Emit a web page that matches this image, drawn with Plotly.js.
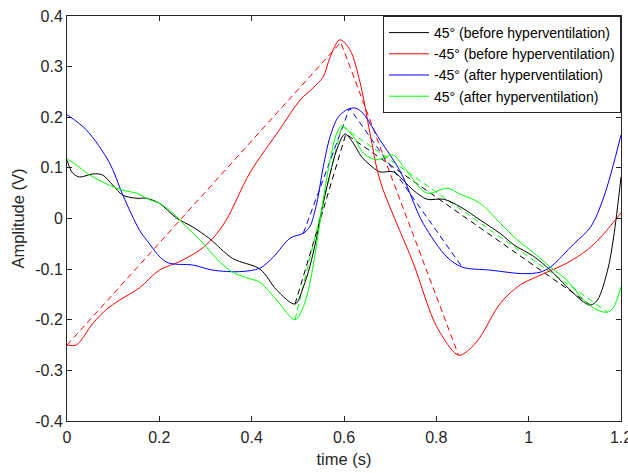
<!DOCTYPE html>
<html>
<head>
<meta charset="utf-8">
<script src="https://cdn.plot.ly/plotly-3.0.1.min.js"></script>
<style>html,body{margin:0;padding:0;background:#fff;}#chart{width:628px;height:473px;}</style>
</head>
<body>
<div id="chart"></div>
<script>
// ---- data ----
const seriesNames = ["45° (before hyperventilation)", "-45° (before hyperventilation)", "-45° (after hyperventilation)", "45° (after hyperventilation)"];

const tPos45Before = [0, 0.012, 0.027, 0.056, 0.077, 0.099, 0.121, 0.151, 0.172, 0.2, 0.237, 0.273, 0.309, 0.359, 0.418, 0.454, 0.494, 0.512, 0.526, 0.541, 0.555, 0.57, 0.584, 0.602, 0.62, 0.638, 0.656, 0.678, 0.707, 0.75, 0.78, 0.816, 0.852, 0.895, 0.939, 0.968, 1.011, 1.047, 1.083, 1.119, 1.134, 1.149, 1.171, 1.184, 1.2];
const vPos45Before = [0.115, 0.09, 0.082, 0.088, 0.086, 0.066, 0.046, 0.04, 0.04, 0.03, 0.001, -0.017, -0.04, -0.079, -0.1, -0.141, -0.169, -0.135, -0.095, -0.036, 0.03, 0.089, 0.135, 0.167, 0.149, 0.122, 0.106, 0.092, 0.092, 0.056, 0.038, 0.038, 0.023, -0.003, -0.03, -0.052, -0.075, -0.102, -0.135, -0.165, -0.171, -0.161, -0.102, -0.037, 0.082];

const tNeg45Before = [0, 0.02, 0.056, 0.085, 0.114, 0.157, 0.2, 0.244, 0.288, 0.316, 0.345, 0.396, 0.46, 0.505, 0.533, 0.555, 0.57, 0.591, 0.613, 0.635, 0.656, 0.678, 0.75, 0.801, 0.848, 0.87, 0.895, 0.939, 0.982, 1.025, 1.083, 1.127, 1.156, 1.2];
const vNeg45Before = [-0.25, -0.25, -0.207, -0.18, -0.161, -0.137, -0.102, -0.085, -0.062, -0.039, -0.003, 0.09, 0.175, 0.234, 0.258, 0.28, 0.319, 0.353, 0.333, 0.268, 0.17, 0.075, -0.088, -0.214, -0.27, -0.26, -0.234, -0.167, -0.131, -0.112, -0.088, -0.062, -0.037, 0.011];

const tNeg45After = [0, 0.042, 0.092, 0.121, 0.157, 0.172, 0.215, 0.273, 0.316, 0.374, 0.418, 0.447, 0.483, 0.512, 0.526, 0.541, 0.555, 0.57, 0.588, 0.609, 0.625, 0.641, 0.678, 0.722, 0.771, 0.823, 0.856, 0.917, 0.989, 1.025, 1.047, 1.098, 1.134, 1.163, 1.2];
const vNeg45After = [0.205, 0.175, 0.11, 0.046, -0.023, -0.042, -0.086, -0.092, -0.102, -0.105, -0.098, -0.076, -0.039, -0.029, -0.016, 0.03, 0.102, 0.162, 0.201, 0.216, 0.218, 0.208, 0.155, 0.093, -0.009, -0.076, -0.096, -0.102, -0.109, -0.106, -0.096, -0.05, -0.017, 0.043, 0.165];

const tPos45After = [0, 0.02, 0.049, 0.077, 0.107, 0.129, 0.151, 0.179, 0.2, 0.229, 0.259, 0.288, 0.331, 0.359, 0.389, 0.418, 0.454, 0.494, 0.512, 0.526, 0.541, 0.555, 0.57, 0.584, 0.595, 0.62, 0.642, 0.671, 0.707, 0.729, 0.78, 0.823, 0.852, 0.895, 0.939, 0.975, 1.011, 1.047, 1.083, 1.119, 1.149, 1.171, 1.184, 1.2];
const vPos45After = [0.118, 0.106, 0.086, 0.072, 0.06, 0.054, 0.05, 0.037, 0.03, 0.011, -0.017, -0.042, -0.086, -0.106, -0.117, -0.126, -0.161, -0.2, -0.174, -0.128, -0.049, 0.037, 0.116, 0.168, 0.183, 0.162, 0.129, 0.116, 0.125, 0.102, 0.05, 0.06, 0.048, 0.03, -0.01, -0.042, -0.068, -0.096, -0.122, -0.161, -0.181, -0.185, -0.175, -0.135];

// dashed piecewise-linear approximations (min -> peak -> min)
const tPos45BeforeFit = [0.494, 0.604, 1.134];
const vPos45BeforeFit = [-0.169, 0.167, -0.171];
const tNeg45BeforeFit = [0, 0.593, 0.848];
const vNeg45BeforeFit = [-0.25, 0.348, -0.27];
const tNeg45AfterFit = [0.512, 0.612, 0.856];
const vNeg45AfterFit = [-0.029, 0.218, -0.096];
const tPos45AfterFit = [0.494, 0.595, 1.171];
const vPos45AfterFit = [-0.2, 0.183, -0.185];

const xTickVals = [0, 0.2, 0.4, 0.6, 0.8, 1, 1.2];
const xTickText = ["0", "0.2", "0.4", "0.6", "0.8", "1", "1.2"];
const yTickVals = [-0.4, -0.3, -0.2, -0.1, 0, 0.1, 0.2, 0.3, 0.4];
const yTickText = ["-0.4", "-0.3", "-0.2", "-0.1", "0", "0.1", "0.2", "0.3", "0.4"];

// ---- styling ----
const colors = ["#000000", "#ff0000", "#0000ff", "#00ff00"];
const solidT = [tPos45Before, tNeg45Before, tNeg45After, tPos45After];
const solidV = [vPos45Before, vNeg45Before, vNeg45After, vPos45After];
const fitT = [tPos45BeforeFit, tNeg45BeforeFit, tNeg45AfterFit, tPos45AfterFit];
const fitV = [vPos45BeforeFit, vNeg45BeforeFit, vNeg45AfterFit, vPos45AfterFit];

const traces = [];
for (let i = 0; i < 4; i++) {
  traces.push({
    x: fitT[i], y: fitV[i], type: "scatter", mode: "lines",
    line: {color: colors[i], width: 1, dash: "6px,4px"},
    showlegend: false, hoverinfo: "skip"
  });
}
for (let i = 0; i < 4; i++) {
  traces.push({
    x: solidT[i], y: solidV[i], type: "scatter", mode: "lines", name: seriesNames[i],
    line: {color: colors[i], width: 1, shape: "spline", smoothing: 0.9}
  });
}

const fontFam = "'Liberation Sans', Arial, Helvetica, sans-serif";
const tickFont = {family: fontFam, size: 16, color: "#262626"};
const titleFont = {family: fontFam, size: 16.5, color: "#262626"};
const layout = {
  width: 628, height: 473,
  margin: {l: 67, r: 7, t: 16, b: 52},
  paper_bgcolor: "#ffffff", plot_bgcolor: "#ffffff",
  font: {family: fontFam, size: 15, color: "#262626"},
  showlegend: true,
  legend: {
    x: 1, y: 1, xanchor: "right", yanchor: "top",
    bgcolor: "#ffffff", bordercolor: "#262626", borderwidth: 1,
    font: {family: fontFam, size: 14, color: "#000000"},
    itemwidth: 40,
    traceorder: "normal"
  },
  xaxis: {
    range: [0, 1.2], tickmode: "array", tickvals: xTickVals, ticktext: xTickText,
    ticks: "inside", ticklen: 5, tickwidth: 1, tickcolor: "#262626",
    showline: true, linecolor: "#262626", linewidth: 1, mirror: "ticks",
    showgrid: false, zeroline: false,
    ticklabeloverflow: "allow", ticklabelstandoff: 2,
    tickfont: tickFont,
    title: {text: "time (s)", font: titleFont, standoff: 8}
  },
  yaxis: {
    range: [-0.4, 0.4], tickmode: "array", tickvals: yTickVals, ticktext: yTickText,
    ticks: "inside", ticklen: 5, tickwidth: 1, tickcolor: "#262626",
    showline: true, linecolor: "#262626", linewidth: 1, mirror: "ticks",
    showgrid: false, zeroline: false,
    tickfont: tickFont,
    title: {text: "Amplitude (V)", font: titleFont, standoff: 6}
  }
};

Plotly.newPlot("chart", traces, layout, {staticPlot: true, displayModeBar: false});
</script>
</body>
</html>
